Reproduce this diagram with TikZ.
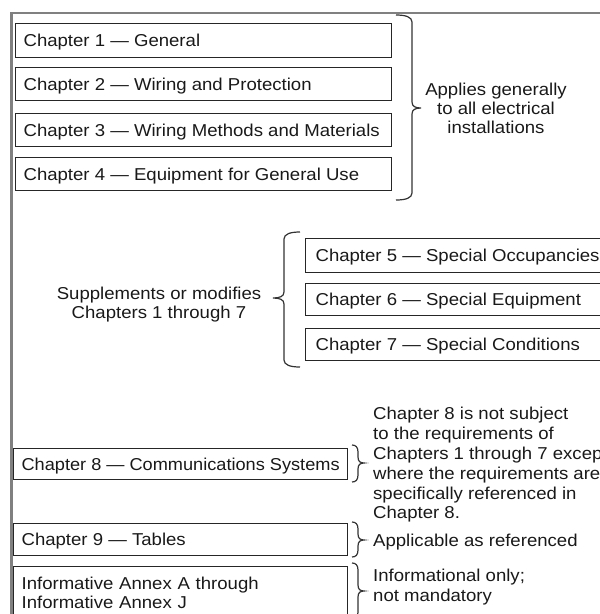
\documentclass[tikz,border=0pt]{standalone}
\usepackage{fontspec}
\usepackage{graphicx}
\setmainfont{Liberation Sans}[FakeStretch=1.08]
\newcommand\myBrace[6]{%
 \draw[brc] (#1,#4) .. controls ({#2+0.4*(#1-#2)},#4) and (#2,#4+2) .. (#2,#4+7)
  -- (#2,#5-6) .. controls (#2,#5-1.5) and ({#2+0.4*(#3-#2)},#5) .. (#3,#5)
  .. controls ({#2+0.4*(#3-#2)},#5) and (#2,#5+1.5) .. (#2,#5+6)
  -- (#2,#6-7) .. controls (#2,#6-2) and ({#2+0.4*(#1-#2)},#6) .. (#1,#6);}
\newcommand\cbox[2]{\makebox[#1][l]{#2}}
\begin{document}
\begin{tikzpicture}[x=1pt,y=-1pt,
  font=\fontsize{17.2}{19}\selectfont,
  chap/.style={draw=black!85, line width=1.2pt, anchor=north west, inner xsep=8pt,
    inner ysep=0pt, text height=12.3pt, text depth=0pt, text=black!90},
  txt/.style={inner sep=0pt, text=black!90},
  brc/.style={draw=black!80, line width=1.2pt},
  frame/.style={draw=black!50, line width=2.6pt}]
\useasboundingbox (0,0) rectangle (600,614);
\clip (0,0) rectangle (600,614);
\draw[frame] (601,13) -- (11.3,13) -- (11.3,616);
% chapters 1-4
\node[chap, minimum height=34pt] (c1) at (15,23) {\cbox{360pt}{Chapter 1 — General}};
\node[chap, minimum height=33pt] (c2) at (15,67) {\cbox{360pt}{Chapter 2 — Wiring and Protection}};
\node[chap, minimum height=33pt] (c3) at (15,113) {\cbox{360pt}{Chapter 3 — Wiring Methods and Materials}};
\node[chap, minimum height=33pt] (c4) at (15,157) {\cbox{360pt}{Chapter 4 — Equipment for General Use}};
\myBrace{396}{412}{421}{15}{108}{200}
\node[txt, align=center] (gen) at (496,108) {Applies generally\\to all electrical\\installations};
% chapters 5-7
\node[chap, inner xsep=10pt, minimum height=34pt] (c5) at (305,238) {\cbox{300pt}{Chapter 5 — Special Occupancies}};
\node[chap, inner xsep=10pt, minimum height=32pt] (c6) at (305,283) {\cbox{300pt}{Chapter 6 — Special Equipment}};
\node[chap, inner xsep=10pt, minimum height=32pt] (c7) at (305,328) {\cbox{300pt}{Chapter 7 — Special Conditions}};
\myBrace{300}{284}{273}{232}{298}{367}
\node[txt, align=center] (sup) at (159,304.5) {Supplements or modifies\\Chapters 1 through 7};
% chapter 8
\node[chap, minimum height=31pt] (c8) at (13,448) {\cbox{318pt}{\scalebox{0.978}[1]{Chapter 8 — Communications Systems}}};
\myBrace{352}{358}{364}{445}{463}{482}
\node[txt, align=left, anchor=west, font=\fontsize{17.2}{19.8}\selectfont] (n8) at (373,465)
  {Chapter 8 is not subject\\to the requirements of\\Chapters 1 through 7 except\\where the requirements are\\specifically referenced in\\Chapter 8.};
% chapter 9
\node[chap, minimum height=32pt] (c9) at (13,523) {\cbox{318pt}{Chapter 9 — Tables}};
\myBrace{352}{358}{364}{522}{540}{557}
\node[txt, anchor=west] (n9) at (373,542) {Applicable as referenced};
% annexes
\node[chap, align=left, text width=318pt, inner ysep=4pt, text height=19pt, text depth=37pt] (ann) at (13,566)
  {Informative Annex A through\\Informative Annex J};
\myBrace{352}{358}{364}{563}{591}{619}
\node[txt, align=left, anchor=west, font=\fontsize{17.2}{20.5}\selectfont] (na) at (373,587) {Informational only;\\not mandatory};
\end{tikzpicture}
\end{document}
